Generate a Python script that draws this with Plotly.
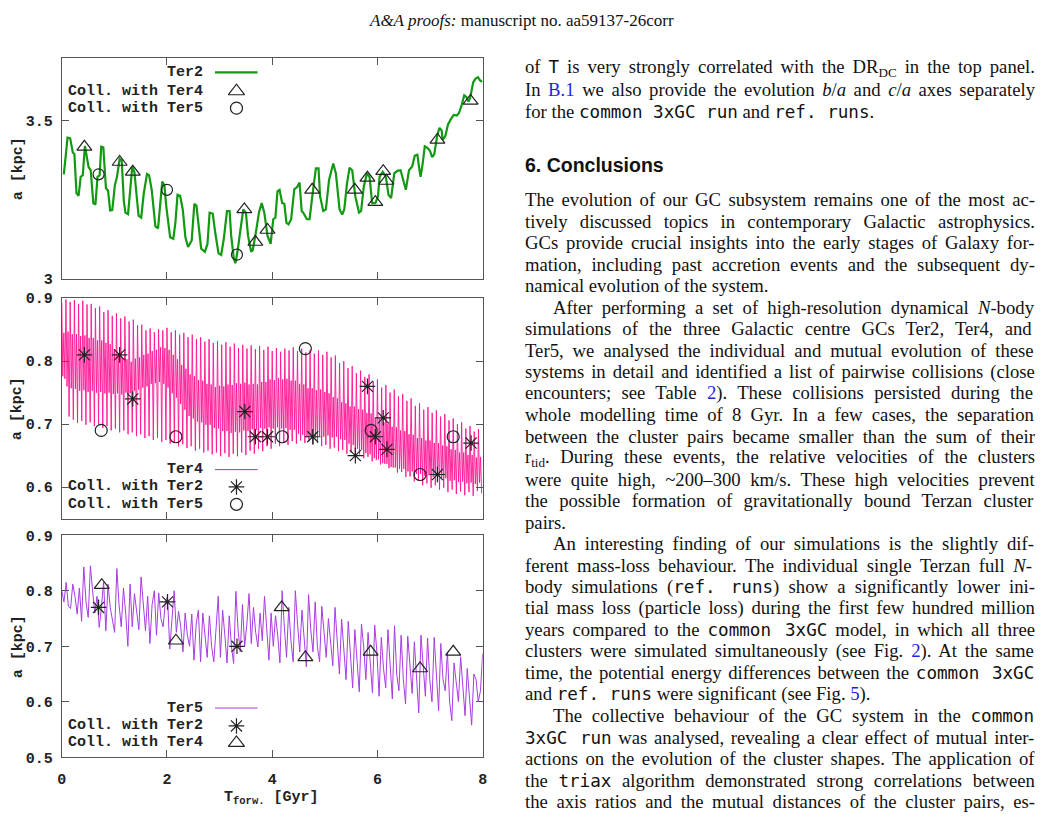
import numpy as np
import plotly.graph_objects as go

W, H = 1042, 830

# ---------------- data ----------------
ter2_t = [0.04, 0.11, 0.16, 0.21, 0.24, 0.28, 0.32, 0.36, 0.40, 0.44, 0.51, 0.55, 0.60, 0.64, 0.68, 0.72,
          0.75, 0.79, 0.84, 0.88, 0.92, 0.96, 1.01, 1.05, 1.10, 1.14, 1.18, 1.21, 1.26, 1.31, 1.34, 1.38,
          1.42, 1.46, 1.51, 1.56, 1.62, 1.66, 1.71, 1.78, 1.83, 1.87, 1.91, 1.95, 1.99, 2.06, 2.12, 2.16,
          2.20, 2.25, 2.30, 2.35, 2.40, 2.47, 2.52, 2.56, 2.60, 2.65, 2.72, 2.77, 2.81, 2.87, 2.92, 2.98,
          3.03, 3.08, 3.14, 3.19, 3.22, 3.27, 3.30, 3.34, 3.39, 3.45, 3.50, 3.54, 3.60, 3.63, 3.69, 3.75,
          3.80, 3.85, 3.91, 3.97, 4.02, 4.06, 4.10, 4.14, 4.19, 4.23, 4.27, 4.31, 4.36, 4.42, 4.47, 4.52,
          4.56, 4.59, 4.66, 4.71, 4.77, 4.83, 4.88, 4.91, 4.97, 5.02, 5.08, 5.16, 5.21, 5.28, 5.33, 5.37,
          5.42, 5.47, 5.52, 5.58, 5.65, 5.69, 5.74, 5.80, 5.85, 5.90, 5.96, 6.01, 6.04, 6.10, 6.16, 6.21,
          6.26, 6.32, 6.38, 6.44, 6.49, 6.54, 6.60, 6.66, 6.71, 6.76, 6.79, 6.82, 6.86, 6.90, 6.95, 7.00,
          7.04, 7.08, 7.14, 7.18, 7.22, 7.24, 7.29, 7.34, 7.39, 7.45, 7.51, 7.55, 7.60, 7.65, 7.69, 7.73,
          7.76, 7.82, 7.86, 7.91, 7.95, 7.99]
ter2_a = [3.331, 3.447, 3.445, 3.400, 3.395, 3.272, 3.263, 3.323, 3.328, 3.421, 3.354, 3.344, 3.240, 3.235, 3.323, 3.328,
          3.418, 3.416, 3.287, 3.280, 3.217, 3.218, 3.297, 3.323, 3.380, 3.375, 3.246, 3.210, 3.205, 3.297, 3.354, 3.339,
          3.272, 3.200, 3.194, 3.272, 3.332, 3.328, 3.282, 3.166, 3.160, 3.250, 3.308, 3.297, 3.225, 3.132, 3.127, 3.178,
          3.266, 3.263, 3.220, 3.132, 3.101, 3.122, 3.238, 3.232, 3.168, 3.096, 3.086, 3.111, 3.210, 3.207, 3.143, 3.081,
          3.076, 3.127, 3.215, 3.215, 3.137, 3.065, 3.050, 3.086, 3.148, 3.220, 3.210, 3.137, 3.086, 3.091, 3.148, 3.212,
          3.240, 3.210, 3.137, 3.111, 3.189, 3.194, 3.277, 3.282, 3.240, 3.238, 3.178, 3.173, 3.189, 3.284, 3.290, 3.305,
          3.215, 3.210, 3.189, 3.189, 3.272, 3.350, 3.350, 3.261, 3.215, 3.220, 3.313, 3.365, 3.334, 3.220, 3.204, 3.220,
          3.300, 3.352, 3.344, 3.261, 3.210, 3.215, 3.292, 3.334, 3.323, 3.240, 3.240, 3.261, 3.323, 3.339, 3.323, 3.266,
          3.256, 3.334, 3.342, 3.344, 3.313, 3.282, 3.344, 3.356, 3.390, 3.393, 3.354, 3.323, 3.365, 3.420, 3.415, 3.405,
          3.385, 3.395, 3.457, 3.478, 3.470, 3.440, 3.452, 3.488, 3.504, 3.519, 3.517, 3.525, 3.550, 3.581, 3.576, 3.561,
          3.571, 3.622, 3.633, 3.638, 3.628, 3.623]
ter2_c4_t = [0.43, 1.10, 1.35, 3.47, 3.68, 3.91, 4.76, 5.57, 5.81, 5.96, 6.11, 6.17, 7.14, 7.77]
ter2_c4_a = [3.418, 3.370, 3.339, 3.220, 3.117, 3.155, 3.282, 3.282, 3.320, 3.243, 3.341, 3.310, 3.440, 3.563]
ter2_c5_t = [0.70, 2.00, 3.33]
ter2_c5_a = [3.331, 3.282, 3.077]

# Ter4: per oscillation cycle -> high spike, inner low, inner high, low spike
ter4_hi = [0.893, 0.898, 0.894, 0.897, 0.891, 0.896, 0.890, 0.891, 0.884, 0.887,
           0.878, 0.881, 0.872, 0.876, 0.868, 0.871, 0.863, 0.866, 0.857, 0.858,
           0.849, 0.852, 0.846, 0.851, 0.849, 0.853, 0.846, 0.849, 0.842, 0.845,
           0.838, 0.842, 0.835, 0.838, 0.831, 0.835, 0.829, 0.832, 0.826, 0.830,
           0.823, 0.828, 0.821, 0.826, 0.820, 0.825, 0.819, 0.824, 0.818, 0.823,
           0.816, 0.821, 0.815, 0.820, 0.817, 0.822, 0.816, 0.820, 0.814, 0.818,
           0.812, 0.817, 0.810, 0.815, 0.806, 0.809, 0.797, 0.800, 0.789, 0.792,
           0.781, 0.785, 0.775, 0.779, 0.768, 0.771, 0.758, 0.762, 0.750, 0.755,
           0.744, 0.748, 0.737, 0.741, 0.729, 0.733, 0.723, 0.727, 0.718, 0.722,
           0.712, 0.716, 0.706, 0.709, 0.700, 0.703, 0.693, 0.697, 0.688, 0.692]
ter4_ilo = [0.776, 0.760, 0.757, 0.756, 0.753, 0.754, 0.751, 0.753, 0.750, 0.751,
            0.749, 0.750, 0.748, 0.749, 0.747, 0.750, 0.749, 0.753, 0.755, 0.758,
            0.760, 0.764, 0.765, 0.767, 0.764, 0.758, 0.749, 0.742, 0.732, 0.723,
            0.713, 0.709, 0.704, 0.703, 0.699, 0.699, 0.694, 0.693, 0.689, 0.689,
            0.686, 0.688, 0.687, 0.690, 0.689, 0.692, 0.691, 0.694, 0.693, 0.695,
            0.693, 0.695, 0.693, 0.694, 0.691, 0.691, 0.685, 0.683, 0.679, 0.680,
            0.678, 0.681, 0.680, 0.682, 0.679, 0.680, 0.676, 0.675, 0.669, 0.667,
            0.661, 0.659, 0.654, 0.652, 0.646, 0.644, 0.638, 0.637, 0.632, 0.631,
            0.629, 0.629, 0.625, 0.625, 0.621, 0.621, 0.618, 0.619, 0.616, 0.618,
            0.614, 0.614, 0.610, 0.611, 0.608, 0.609, 0.606, 0.607, 0.605, 0.607]
ter4_ihi = [0.845, 0.847, 0.843, 0.843, 0.840, 0.841, 0.837, 0.837, 0.833, 0.833,
            0.829, 0.827, 0.819, 0.813, 0.805, 0.803, 0.799, 0.804, 0.806, 0.810,
            0.812, 0.816, 0.818, 0.822, 0.821, 0.818, 0.810, 0.803, 0.794, 0.788,
            0.779, 0.776, 0.770, 0.769, 0.764, 0.763, 0.759, 0.761, 0.760, 0.763,
            0.762, 0.765, 0.764, 0.766, 0.763, 0.764, 0.763, 0.767, 0.767, 0.771,
            0.770, 0.773, 0.771, 0.772, 0.769, 0.769, 0.764, 0.763, 0.757, 0.757,
            0.754, 0.755, 0.751, 0.749, 0.743, 0.741, 0.735, 0.733, 0.728, 0.728,
            0.724, 0.723, 0.718, 0.717, 0.711, 0.709, 0.703, 0.701, 0.696, 0.695,
            0.690, 0.689, 0.684, 0.683, 0.678, 0.678, 0.674, 0.674, 0.670, 0.670,
            0.666, 0.665, 0.660, 0.659, 0.655, 0.655, 0.651, 0.651, 0.647, 0.648]
ter4_lo = [0.772, 0.712, 0.707, 0.702, 0.705, 0.699, 0.703, 0.697, 0.700, 0.694,
           0.697, 0.690, 0.693, 0.687, 0.690, 0.684, 0.687, 0.681, 0.684, 0.678,
           0.681, 0.675, 0.678, 0.672, 0.675, 0.669, 0.671, 0.665, 0.668, 0.662,
           0.665, 0.658, 0.661, 0.655, 0.658, 0.652, 0.655, 0.649, 0.654, 0.648,
           0.653, 0.649, 0.655, 0.651, 0.658, 0.653, 0.661, 0.657, 0.665, 0.661,
           0.669, 0.665, 0.671, 0.667, 0.673, 0.669, 0.674, 0.670, 0.673, 0.668,
           0.670, 0.665, 0.667, 0.661, 0.663, 0.657, 0.659, 0.653, 0.655, 0.649,
           0.652, 0.646, 0.648, 0.641, 0.643, 0.636, 0.637, 0.630, 0.631, 0.623,
           0.624, 0.616, 0.617, 0.609, 0.611, 0.603, 0.606, 0.599, 0.603, 0.596,
           0.599, 0.592, 0.596, 0.589, 0.593, 0.587, 0.592, 0.586, 0.594, 0.590]
ter4_c2_t = [0.43, 1.10, 1.35, 3.48, 3.68, 3.91, 4.77, 5.58, 5.81, 5.96, 6.11, 6.18, 7.14, 7.78]
ter4_c2_a = [0.81, 0.81, 0.74, 0.72, 0.68, 0.68, 0.68, 0.65, 0.76, 0.68, 0.71, 0.66, 0.62, 0.67]
ter4_c5_t = [0.75, 2.17, 4.19, 4.63, 5.88, 6.81, 7.44]
ter4_c5_a = [0.69, 0.68, 0.68, 0.82, 0.69, 0.62, 0.68]

ter5_a = [0.800, 0.780, 0.815, 0.772, 0.768, 0.812, 0.790, 0.758, 0.805, 0.745, 0.843, 0.780,
          0.752, 0.845, 0.800, 0.760, 0.790, 0.734, 0.770, 0.816, 0.728, 0.812, 0.770, 0.750,
          0.725, 0.840, 0.775, 0.735, 0.805, 0.760, 0.700, 0.812, 0.735, 0.795, 0.760, 0.730,
          0.825, 0.770, 0.728, 0.790, 0.705, 0.775, 0.800, 0.720, 0.796, 0.750, 0.735, 0.780,
          0.790, 0.695, 0.745, 0.800, 0.725, 0.763, 0.735, 0.690, 0.760, 0.720, 0.700, 0.758,
          0.675, 0.740, 0.765, 0.672, 0.760, 0.715, 0.680, 0.755, 0.700, 0.672, 0.735, 0.790,
          0.680, 0.765, 0.720, 0.670, 0.755, 0.700, 0.669, 0.799, 0.730, 0.690, 0.775, 0.700,
          0.740, 0.795, 0.705, 0.770, 0.725, 0.699, 0.760, 0.710, 0.790, 0.735, 0.675, 0.760,
          0.700, 0.755, 0.720, 0.670, 0.800, 0.735, 0.680, 0.770, 0.710, 0.672, 0.800, 0.740,
          0.690, 0.765, 0.720, 0.663, 0.793, 0.730, 0.690, 0.780, 0.700, 0.672, 0.772, 0.725,
          0.680, 0.750, 0.700, 0.665, 0.770, 0.715, 0.650, 0.749, 0.700, 0.640, 0.745, 0.690,
          0.625, 0.730, 0.680, 0.618, 0.740, 0.700, 0.640, 0.725, 0.670, 0.616, 0.738, 0.690,
          0.610, 0.716, 0.660, 0.625, 0.730, 0.670, 0.605, 0.737, 0.650, 0.620, 0.720, 0.640,
          0.596, 0.718, 0.660, 0.615, 0.708, 0.650, 0.580, 0.720, 0.665, 0.610, 0.715, 0.640,
          0.600, 0.716, 0.650, 0.584, 0.705, 0.640, 0.620, 0.690, 0.600, 0.566, 0.670, 0.640,
          0.600, 0.681, 0.620, 0.575, 0.660, 0.610, 0.558, 0.650, 0.640, 0.600, 0.620, 0.687]
ter5_c2_t = [0.70, 2.01, 3.33]
ter5_c2_a = [0.77, 0.78, 0.70]
ter5_c4_t = [0.76, 2.17, 4.18, 4.63, 5.87, 6.81, 7.44]
ter5_c4_a = [0.81, 0.71, 0.77, 0.68, 0.69, 0.66, 0.69]

x_ticks = [0, 2, 4, 6, 8]

# ---------------- derived tables ----------------
n4 = len(ter4_hi)
ter4_t = (np.repeat(np.arange(n4) * 8.0 / n4, 4) + np.tile([0.0, 0.02, 0.04, 0.06], n4)).tolist()
ter4_a = np.column_stack([ter4_hi, ter4_ilo, ter4_ihi, ter4_lo]).ravel().tolist()
ter5_t = np.linspace(0, 8, len(ter5_a)).tolist()

GREEN = "#119a11"
PINK = "#ff1493"
PURPLE = "#a93be3"
MK = "#222222"
FRAME = "#555555"
MONO = "Liberation Mono"


def px2x(px):
    return px / W


def px2y(py):
    return 1 - py / H


fig = go.Figure()


def line(x, y, color, width, ax):
    fig.add_trace(go.Scatter(x=x, y=y, mode="lines", line=dict(color=color, width=width),
                             xaxis="x" + ax, yaxis="y" + ax, showlegend=False, hoverinfo="skip"))


def marks(x, y, symbol, size, ax):
    fig.add_trace(go.Scatter(x=x, y=y, mode="markers",
                             marker=dict(symbol=symbol, size=size, color=MK,
                                         line=dict(color=MK, width=1.2)),
                             xaxis="x" + ax, yaxis="y" + ax, showlegend=False, hoverinfo="skip",
                             cliponaxis=False))


TRI, CIR, AST = 13, 11, 13
# panel 1 (Ter2)
line(ter2_t, ter2_a, GREEN, 2.2, "")
marks(ter2_c4_t, ter2_c4_a, "triangle-up-open", TRI, "")
marks(ter2_c5_t, ter2_c5_a, "circle-open", CIR, "")
# panel 2 (Ter4)
line(ter4_t, ter4_a, PINK, 0.9, "2")
marks(ter4_c2_t, ter4_c2_a, "asterisk-open", AST, "2")
marks(ter4_c5_t, ter4_c5_a, "circle-open", CIR + 1, "2")
# panel 3 (Ter5)
line(ter5_t, ter5_a, PURPLE, 1.0, "3")
marks(ter5_c2_t, ter5_c2_a, "asterisk-open", AST, "3")
marks(ter5_c4_t, ter5_c4_a, "triangle-up-open", TRI, "3")

# ---------------- legend keys (pixel overlay axis) ----------------
keys = [
    (66.7, "Ter2", ("line", GREEN, 2.2)),
    (86.0, "Coll. with Ter4", ("triangle-up-open", TRI + 1)),
    (103.3, "Coll. with Ter5", ("circle-open", 12)),
    (472.3, "Ter4", ("line", PINK, 1.0)),
    (490.0, "Coll. with Ter2", ("asterisk-open", AST)),
    (507.7, "Coll. with Ter5", ("circle-open", 12)),
    (715.7, "Ter5", ("line", PURPLE, 1.0)),
    (734.0, "Coll. with Ter2", ("asterisk-open", AST)),
    (751.3, "Coll. with Ter4", ("triangle-up-open", TRI + 1)),
]
annotations = []
for ky, label, spec in keys:
    annotations.append(dict(x=202, y=ky, xref="x4", yref="y4", text=label, showarrow=False,
                            xanchor="right", yanchor="middle",
                            font=dict(family=MONO, size=15, color="#222", weight="bold")))
    if spec[0] == "line":
        line([212, 255], [ky, ky], spec[1], spec[2], "4")
    else:
        marks([233.7], [ky], spec[0], spec[1], "4")

# axis labels
for cy in [164.7, 409.8, 652.7]:
    annotations.append(dict(x=13, y=cy, xref="x4", yref="y4", text="a [kpc]", textangle=-90,
                            showarrow=False, xanchor="center", yanchor="middle",
                            font=dict(family=MONO, size=15, color="#222", weight="bold")))
annotations.append(dict(x=269, y=808, xref="x4", yref="y4",
                        text="T<sub>forw.</sub> [Gyr]", showarrow=False,
                        xanchor="center", yanchor="middle",
                        font=dict(family=MONO, size=15, color="#222", weight="bold")))

# ---------------- page text ----------------
SERIF = "Liberation Serif"
FS = 18.7
TTS = 17.6
TIMES = {' ': 250, '!': 333, '"': 408, '&': 778, "'": 333, '(': 333, ')': 333, ',': 250, '-': 333,
         '.': 250, '/': 278, ':': 278, ';': 278, '?': 444, '~': 541, '–': 500,
         'A': 722, 'B': 667, 'C': 667, 'D': 722, 'E': 611, 'F': 556, 'G': 722, 'H': 722, 'I': 333,
         'J': 389, 'K': 722, 'L': 611, 'M': 889, 'N': 722, 'O': 722, 'P': 556, 'Q': 722, 'R': 667,
         'S': 556, 'T': 611, 'U': 722, 'V': 722, 'W': 944, 'X': 722, 'Y': 722, 'Z': 611,
         'a': 444, 'b': 500, 'c': 444, 'd': 500, 'e': 444, 'f': 333, 'g': 500, 'h': 500, 'i': 278,
         'j': 278, 'k': 500, 'l': 278, 'm': 778, 'n': 500, 'o': 500, 'p': 500, 'q': 500, 'r': 333,
         's': 389, 't': 278, 'u': 500, 'v': 500, 'w': 722, 'x': 500, 'y': 500, 'z': 444}
for d in '0123456789':
    TIMES[d] = 500
ITAL = {'a': 500, 'N': 667}


def seg_width(kind, txt):
    if kind == "tt":
        return len(txt) * 0.602 * TTS
    scale = 0.7 if kind == "sub" else 1.0
    tot = 0
    for ch in txt:
        w = ITAL.get(ch, TIMES.get(ch, 500)) if kind == "i" else TIMES.get(ch, 500)
        tot += w
    return tot * FS * scale / 1000.0


def seg_html(kind, txt):
    if kind == "tt":
        return '<span style="font-family:DejaVu Sans Mono;font-size:%.1fpx">%s</span>' % (TTS, txt)
    if kind == "b":
        return '<span style="color:#1f1fe6">%s</span>' % txt
    if kind == "i":
        return "<i>%s</i>" % txt
    if kind == "sub":
        return "<sub>%s</sub>" % txt
    return txt


R = lambda s: [("r", s)]
body = [
    (0, True, [("r", "of "), ("tt", "T"), ("r", " is very strongly correlated with the DR"), ("sub", "DC"), ("r", " in the top panel.")]),
    (0, True, [("r", "In "), ("b", "B.1"), ("r", " we also provide the evolution "), ("i", "b"), ("r", "/"), ("i", "a"),
               ("r", " and "), ("i", "c"), ("r", "/"), ("i", "a"), ("r", " axes separately")]),
    (0, False, [("r", "for the "), ("tt", "common 3xGC run"), ("r", " and "), ("tt", "ref. runs"), ("r", ".")]),
    (0, True, R("The evolution of our GC subsystem remains one of the most ac-")),
    (0, True, R("tively discussed topics in contemporary Galactic astrophysics.")),
    (0, True, R("GCs provide crucial insights into the early stages of Galaxy for-")),
    (0, True, R("mation, including past accretion events and the subsequent dy-")),
    (0, False, R("namical evolution of the system.")),
    (1, True, [("r", "After performing a set of high-resolution dynamical "), ("i", "N"), ("r", "-body")]),
    (0, True, R("simulations of the three Galactic centre GCs Ter2, Ter4, and")),
    (0, True, R("Ter5, we analysed the individual and mutual evolution of these")),
    (0, True, R("systems in detail and identified a list of pairwise collisions (close")),
    (0, True, [("r", "encounters; see Table "), ("b", "2"), ("r", "). These collisions persisted during the")]),
    (0, True, R("whole modelling time of 8 Gyr. In a few cases, the separation")),
    (0, True, R("between the cluster pairs became smaller than the sum of their")),
    (0, True, [("r", "r"), ("sub", "tid"), ("r", ". During these events, the relative velocities of the clusters")]),
    (0, True, R("were quite high, ~200–300 km/s. These high velocities prevent")),
    (0, True, R("the possible formation of gravitationally bound Terzan cluster")),
    (0, False, R("pairs.")),
    (1, True, R("An interesting finding of our simulations is the slightly dif-")),
    (0, True, [("r", "ferent mass-loss behaviour. The individual single Terzan full "), ("i", "N"), ("r", "-")]),
    (0, True, [("r", "body simulations ("), ("tt", "ref. runs"), ("r", ") show a significantly lower ini-")]),
    (0, True, R("tial mass loss (particle loss) during the first few hundred million")),
    (0, True, [("r", "years compared to the "), ("tt", "common 3xGC"), ("r", " model, in which all three")]),
    (0, True, [("r", "clusters were simulated simultaneously (see Fig. "), ("b", "2"), ("r", "). At the same")]),
    (0, True, [("r", "time, the potential energy differences between the "), ("tt", "common 3xGC")]),
    (0, False, [("r", "and "), ("tt", "ref. runs"), ("r", " were significant (see Fig. "), ("b", "5"), ("r", ").")]),
    (1, True, [("r", "The collective behaviour of the GC system in the "), ("tt", "common")]),
    (0, True, [("tt", "3xGC run"), ("r", " was analysed, revealing a clear effect of mutual inter-")]),
    (0, True, R("actions on the evolution of the cluster shapes. The application of")),
    (0, True, [("r", "the "), ("tt", "triax"), ("r", " algorithm demonstrated strong correlations between")]),
    (0, True, R("the axis ratios and the mutual distances of the cluster pairs, es-")),
]
line_y = [62.7, 84.7, 106.7] + [196.7 + 21.95 * i for i in range(len(body) - 3)]
LEFT, RIGHT, INDENT = 522.7, 1033.0, 29.0

annotations.append(dict(x=521, y=14, xref="x4", yref="y4", showarrow=False, xanchor="center",
                        yanchor="middle",
                        text="<i>A&amp;A proofs:</i> manuscript no. aa59137-26corr",
                        font=dict(family=SERIF, size=17, color="#111")))
for yy, (indent, justify, segs) in zip(line_y, body):
    x0 = LEFT + (INDENT if indent else 0)
    html = "".join(seg_html(k, t) for k, t in segs)
    if justify:
        natural = sum(seg_width(k, t) for k, t in segs)
        nsp = sum(t.count(" ") for k, t in segs)
        ws = (RIGHT - x0 - natural) / max(nsp, 1)
        html = '<span style="word-spacing:%.2fpx">%s</span>' % (ws, html)
    annotations.append(dict(x=x0, y=yy, xref="x4", yref="y4", showarrow=False,
                            xanchor="left", yanchor="middle", text=html,
                            font=dict(family=SERIF, size=FS, color="#111")))
annotations.append(dict(x=522.7, y=161.7, xref="x4", yref="y4", showarrow=False, xanchor="left",
                        yanchor="middle", text="6. Conclusions",
                        font=dict(family="Liberation Sans", size=19.5, color="#111", weight="bold")))

# ---------------- axes ----------------
xdom = [px2x(57.3), px2x(482.3)]
panels = [(51.7, 277.7, [3.0, 3.7], 0.5), (297.3, 522.3, [0.55, 0.9], 0.1), (539.3, 766.0, [0.5, 0.9], 0.1)]
common = dict(showline=True, linecolor=FRAME, linewidth=1, mirror="ticks", ticks="inside",
              ticklen=7, tickwidth=1, tickcolor=FRAME, showgrid=False, zeroline=False,
              tickfont=dict(family=MONO, size=15, color="#222", weight="bold"))
layout = dict(width=W, height=H, margin=dict(l=0, r=0, t=0, b=0, pad=0), autosize=False,
              paper_bgcolor="white", plot_bgcolor="rgba(0,0,0,0)", showlegend=False,
              annotations=annotations)
for i, (top, bot, yr, dt) in enumerate(panels):
    sfx = "" if i == 0 else str(i + 1)
    layout["xaxis" + sfx] = dict(domain=xdom, range=[0, 8], tickvals=x_ticks,
                                 showticklabels=(i == 2), anchor="y" + sfx,
                                 ticklabelstandoff=8, **common)
    layout["yaxis" + sfx] = dict(domain=[px2y(bot), px2y(top)], range=yr, dtick=dt, tick0=0,
                                 anchor="x" + sfx, ticklabelstandoff=5, **common)
# overlay axis in picture pixels, used for legend keys and page text
layout["xaxis4"] = dict(domain=[0, 1], range=[0, W], visible=False, anchor="y4", fixedrange=True)
layout["yaxis4"] = dict(domain=[0, 1], range=[H, 0], visible=False, anchor="x4", fixedrange=True)
fig.update_layout(**layout)

fig.write_html("out.html", config={"displayModeBar": False})
